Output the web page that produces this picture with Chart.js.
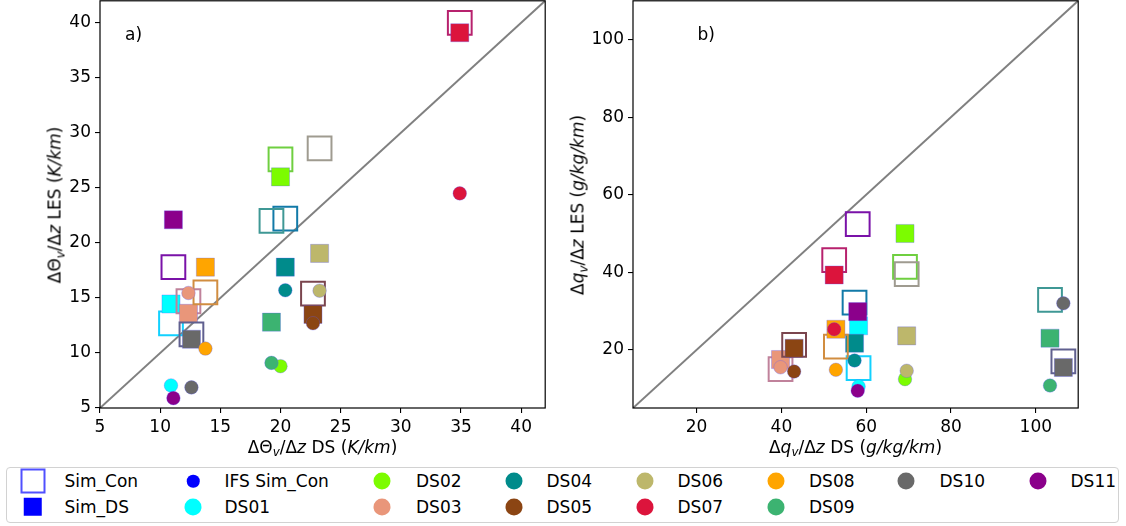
<!DOCTYPE html>
<html><head><meta charset="utf-8">
<script src="https://cdn.jsdelivr.net/npm/chart.js@4/dist/chart.umd.min.js"></script>
<style>
html,body{margin:0;padding:0;background:#fff;}
#wrap{position:relative;width:1126px;height:526px;overflow:hidden;font-family:"DejaVu Sans",sans-serif;color:#000;}
canvas{position:absolute;top:0;}
.t{position:absolute;font-size:17px;white-space:nowrap;line-height:1;}
.t sub{font-size:70%;vertical-align:-0.3em;line-height:0;}
.c{transform:translate(-50%,-50%);}
.r{transform:translate(-50%,-50%) rotate(-90deg);}
#legend{position:absolute;left:6px;top:467px;width:1113px;height:56px;border:1px solid #d2d2d2;border-radius:4px;box-sizing:border-box;}
.mk{position:absolute;box-sizing:border-box;transform:translate(-50%,-50%);}
.lt{position:absolute;font-size:17px;line-height:1;white-space:nowrap;transform:translateY(-50%);}
</style></head>
<body>
<div id="wrap">
  <canvas id="ca" width="560" height="462" style="left:0;width:560px;height:462px"></canvas>
  <canvas id="cb" width="566" height="462" style="left:560px;width:566px;height:462px"></canvas>
  <div class="t" style="left:125px;top:34px;transform:translateY(-50%)">a)</div>
  <div class="t" style="left:697.5px;top:33.5px;transform:translateY(-50%)">b)</div>
  <div class="t c" style="left:322.5px;top:446.5px">ΔΘ<sub><i>v</i></sub>/Δ<i>z</i> DS (<i>K/km</i>)</div>
  <div class="t r" style="left:55px;top:204.5px">ΔΘ<sub><i>v</i></sub>/Δ<i>z</i> LES (<i>K/km</i>)</div>
  <div class="t c" style="left:855.5px;top:446.5px">Δ<i>q</i><sub><i>v</i></sub>/Δ<i>z</i> DS (<i>g/kg/km</i>)</div>
  <div class="t r" style="left:577.5px;top:204.5px">Δ<i>q</i><sub><i>v</i></sub>/Δ<i>z</i> LES (<i>g/kg/km</i>)</div>
  <div id="legend"></div>
</div>
<script>
// ---- data ----
const dsNames  = ['DS01','DS02','DS03','DS04','DS05','DS06','DS07','DS08','DS09','DS10','DS11'];
const dsColors = ['#00ffff','#7cfc00','#e9967a','#008b8b','#8b4513','#bdb76b','#dc143c','#ffa500','#3cb371','#696969','#8b008b'];

// panel a: potential temperature gradient (K/km)
const thetaDS     = [10.9, 20.0, 12.35, 20.4, 22.7, 23.25, 34.9, 13.76, 19.25, 12.6, 11.1];
const thetaSimCon = [12.7, 27.6, 14.7, 22.2, 15.4, 28.6, 40.0, 15.5, 22.0, 11.7, 17.8];
const thetaSimDS  = [14.45, 26.0, 13.6, 17.8, 13.5, 19.05, 39.1, 17.8, 12.8, 11.25, 22.1];
const thetaIFS    = [7.05, 8.8, 15.45, 15.7, 12.7, 15.66, 24.5, 10.4, 9.1, 6.87, 5.9];

// panel b: specific humidity gradient (g/kg/km)
const qvDS     = [58.2, 69.15, 39.8, 57.25, 43.0, 69.55, 52.45, 52.85, 103.35, 106.5, 58.0];
const qvSimCon = [15.3, 41.4, 15.0, 32.2, 21.3, 39.55, 43.1, 20.85, 32.85, 17.0, 52.4];
const qvSimDS  = [26.2, 50.0, 17.5, 21.7, 20.4, 23.6, 39.3, 25.3, 23.0, 15.45, 29.85];
const qvIFS    = [10.55, 12.45, 15.5, 17.25, 14.4, 14.6, 25.3, 14.85, 10.8, 32.0, 9.45];

const rangeA = [5, 42];
const rangeB = [5, 110];
const xTicksA = [5,10,15,20,25,30,35,40];
const yTicksA = [5,10,15,20,25,30,35,40];
const xTicksB = [20,40,60,80,100];
const yTicksB = [20,40,60,80,100];

const legendLabels = ['Sim_Con','Sim_DS','IFS Sim_Con'];

// ---- helpers ----
function hex(c){return [parseInt(c.substr(1,2),16),parseInt(c.substr(3,2),16),parseInt(c.substr(5,2),16)];}
function mix(c, m, f){const a=hex(c);return 'rgb('+a.map((v,i)=>Math.round(v*(1-f)+m[i]*f)).join(',')+')';}

Chart.defaults.font.family = '"DejaVu Sans", sans-serif';
Chart.defaults.color = '#000';

const framePlugin = {
  id:'frame',
  afterDatasetsDraw(chart){
    const a = chart.chartArea, ctx = chart.ctx;
    ctx.save(); ctx.strokeStyle = '#000'; ctx.lineWidth = 1.2;
    ctx.strokeRect(a.left, a.top, a.right - a.left, a.bottom - a.top);
    ctx.restore();
  }
};

function buildDatasets(xs, con, sim, ifs, range){
  const seq = [];
  seq.push({label:'diag', data:[{x:range[0],y:range[0]},{x:range[1],y:range[1]}], showLine:true,
    borderColor:'#808080', borderWidth:2, pointRadius:0, fill:false});
  dsNames.forEach((n,i)=>{
    seq.push({label:n+' Sim_Con', data:[{x:xs[i],y:con[i]}], pointStyle:'rect', pointRadius:16.8,
      backgroundColor:'rgba(0,0,0,0)', borderColor:mix(dsColors[i],[70,70,255],0.25), borderWidth:2});
    seq.push({label:n+' Sim_DS', data:[{x:xs[i],y:sim[i]}], pointStyle:'rect', pointRadius:12.8,
      backgroundColor:dsColors[i], borderColor:'rgba(90,90,255,0.3)', borderWidth:1});
  });
  dsNames.forEach((n,i)=>{
    seq.push({label:n+' IFS', data:[{x:xs[i],y:ifs[i]}], pointStyle:'circle', pointRadius:6.8,
      backgroundColor:dsColors[i], borderColor:'rgba(90,90,255,0.3)', borderWidth:1});
  });
  seq.forEach((d,i)=>{ d.order = seq.length - i; });
  return seq;
}

function axis(range, ticks, fitFn, pad){
  return {
    type:'linear', min:range[0], max:range[1],
    afterBuildTicks:s=>{ s.ticks = ticks.map(v=>({value:v})); },
    afterFit:fitFn,
    grid:{display:true, drawOnChartArea:false, drawTicks:true, tickLength:5, color:'#000', lineWidth:1.1},
    border:{display:false},
    ticks:{color:'#000', font:{size:17}, padding:pad, maxRotation:0, autoSkip:false}
  };
}

function config(xs, con, sim, ifs, range, xt, yt, yW){
  return {
    type:'scatter',
    data:{datasets:buildDatasets(xs, con, sim, ifs, range)},
    options:{
      responsive:false, maintainAspectRatio:false, animation:false, events:[],
      layout:{padding:0},
      plugins:{legend:{display:false}, tooltip:{enabled:false}},
      scales:{
        x:axis(range, xt, s=>{s.height=54;}, 4.5),
        y:axis(range, yt, s=>{s.width=yW;}, 4)
      }
    },
    plugins:[framePlugin]
  };
}

// create the chart, then size/position the canvas so the plot area lands on the target box
function placeChart(id, cfgFn, target){
  const canvas = document.getElementById(id);
  let W = canvas.width, H = canvas.height, chart = null;
  for (let k=0;k<5;k++){
    canvas.width = W; canvas.height = H;
    canvas.style.width = W+'px'; canvas.style.height = H+'px';
    chart = new Chart(canvas, cfgFn());
    const a = chart.chartArea;
    const nW = Math.round(a.left + (target.right-target.left) + (W - a.right));
    const nH = Math.round(a.top + (target.bottom-target.top) + (H - a.bottom));
    if ((nW===W && nH===H) || k===4) break;
    chart.destroy(); W = nW; H = nH;
  }
  const a = chart.chartArea;
  canvas.style.left = Math.round(target.left - a.left)+'px';
  canvas.style.top = Math.round(target.top - a.top)+'px';
  return chart;
}

placeChart('ca', ()=>config(thetaDS, thetaSimCon, thetaSimDS, thetaIFS, rangeA, xTicksA, yTicksA, 100),
  {left:100, top:1, right:545, bottom:408});
placeChart('cb', ()=>config(qvDS, qvSimCon, qvSimDS, qvIFS, rangeB, xTicksB, yTicksB, 73),
  {left:633, top:1, right:1078, bottom:408});

// ---- legend (HTML) ----
const legendItems = [
  {label:legendLabels[0], kind:'open', color:'#0000ff'},
  {label:legendLabels[1], kind:'filled', color:'#0000ff'},
  {label:legendLabels[2], kind:'dot', color:'#0000ff'}
].concat(dsNames.map((n,i)=>({label:n, kind:'circle', color:dsColors[i]})));
const colMarkX = [32.5, 193, 382, 513.5, 644.5, 775.5, 906, 1037.5];
const colTextX = [64.5, 224.5, 416, 546.5, 677.5, 809, 939.5, 1070.5];
const rowY = [481, 506.5];
// matplotlib column fill: first 6 columns hold 2 rows, last 2 hold 1
const slots = [];
for (let c=0;c<8;c++){ const n = c<6?2:1; for(let r=0;r<n;r++) slots.push([c,r]); }
const wrap = document.getElementById('wrap');
legendItems.forEach((it,k)=>{
  const [c,r] = slots[k];
  const m = document.createElement('div'); m.className='mk';
  m.style.left = colMarkX[c]+'px'; m.style.top = rowY[r]+'px';
  if (it.kind==='open'){ m.style.width='25px'; m.style.height='25px'; m.style.border='2px solid #5050ff'; m.style.background='#fff'; }
  else if (it.kind==='filled'){ m.style.width='18.5px'; m.style.height='18.5px'; m.style.background=it.color; }
  else if (it.kind==='dot'){ m.style.width='12.5px'; m.style.height='12.5px'; m.style.borderRadius='50%'; m.style.background=it.color; }
  else { m.style.width='17px'; m.style.height='17px'; m.style.borderRadius='50%'; m.style.background=it.color; }
  wrap.appendChild(m);
  const t = document.createElement('div'); t.className='lt'; t.textContent = it.label;
  t.style.left = colTextX[c]+'px'; t.style.top = rowY[r]+'px';
  wrap.appendChild(t);
});
</script>
</body></html>
